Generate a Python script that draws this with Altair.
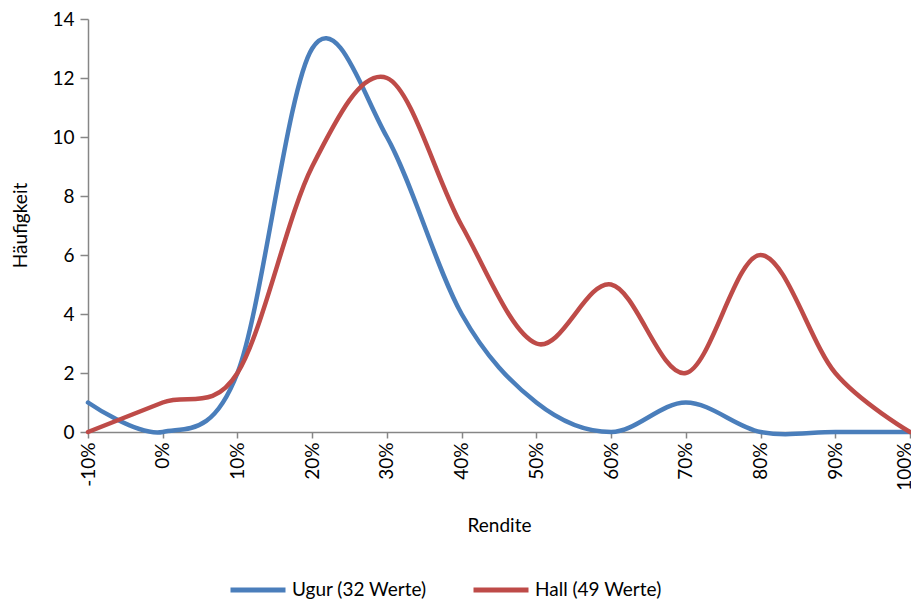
import altair as alt
import pandas as pd

rendite = [-0.1, 0.0, 0.1, 0.2, 0.3, 0.4, 0.5, 0.6, 0.7, 0.8, 0.9, 1.0]
ugur = [1, 0, 2, 13, 10, 4, 1, 0, 1, 0, 0, 0]
hall = [0, 1, 2, 9, 12, 7, 3, 5, 2, 6, 2, 0]
series_names = ["Ugur (32 Werte)", "Hall (49 Werte)"]
colors = ["#4A7EBB", "#BE4B48"]

rows = []
for name, vals in zip(series_names, [ugur, hall]):
    for x, v in zip(rendite, vals):
        rows.append({"Rendite": x, "Häufigkeit": v, "Serie": name})
df = pd.DataFrame(rows)

FONT = "Lato"

chart = alt.Chart(df).mark_line(
    interpolate="cardinal", strokeWidth=4.5, strokeCap="round"
).encode(
    x=alt.X(
        "Rendite:Q",
        scale=alt.Scale(domain=[-0.1, 1.0], nice=False, zero=False),
        axis=alt.Axis(
            values=rendite, format=".0%", labelAngle=-90, labelAlign="right",
            labelBaseline={"condition": {"test": "datum.value >= 0.99", "value": "alphabetic"},
                           "value": "middle"},
            title="Rendite", titleY=93,
            titleBaseline="middle", tickSize=6, labelPadding=4,
            labelExpr="replace(datum.label, '\u2212', '-')",
        ),
    ),
    y=alt.Y(
        "Häufigkeit:Q",
        scale=alt.Scale(domain=[0, 14], nice=False),
        axis=alt.Axis(
            values=[0, 2, 4, 6, 8, 10, 12, 14], title="Häufigkeit",
            titleX=-68, titleY=206, titleAlign="center", titleBaseline="middle",
            tickSize=8, labelPadding=6,
        ),
    ),
    color=alt.Color(
        "Serie:N",
        scale=alt.Scale(domain=series_names, range=colors),
        sort=series_names,
        legend=alt.Legend(
            orient="none", legendX=140, legendY=541, direction="horizontal",
            title=None, symbolType="stroke", symbolSize=3025,
            symbolStrokeWidth=5, columnPadding=36, labelOffset=4,
            labelFontSize=19, labelFont=FONT, labelColor="#000000",
        ),
    ),
).properties(
    width=822,
    height=413,
    autosize=alt.AutoSizeParams(type="none"),
    padding={"left": 80, "top": 11, "right": 1, "bottom": 167},
).configure_view(
    stroke=None
).configure_axis(
    grid=False,
    domainColor="#868686",
    tickColor="#868686",
    domainWidth=1.5,
    tickWidth=1.5,
    labelFont=FONT,
    labelFontSize=19,
    labelColor="#000000",
    titleFont=FONT,
    titleFontSize=19,
    titleFontWeight="normal",
    titleColor="#000000",
)

chart.save("out.html", embed_options={"renderer": "svg", "actions": False})
